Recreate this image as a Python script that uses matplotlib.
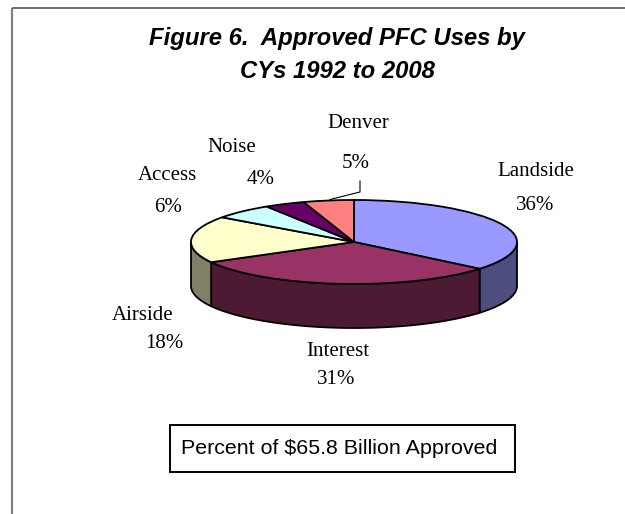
import numpy as np
import matplotlib
matplotlib.use("Agg")
import matplotlib.pyplot as plt
from matplotlib.patches import Polygon, Rectangle

# PFC uses, percent of approved total
categories = ["Landside", "Interest", "Airside", "Access", "Noise", "Denver"]
percents = [36, 31, 18, 6, 4, 5]
top_colors = ["#9999FF", "#993366", "#FFFFCC", "#CCFFFF", "#660066", "#FF8080"]
side_colors = ["#4D4D80", "#4D1A33", "#808066", "#668080", "#330033", "#804040"]

W, H = 625, 514
fig = plt.figure(figsize=(W / 100, H / 100), dpi=100)

# overlay in pixel coordinates for frame and text
bg = fig.add_axes([0, 0, 1, 1])
bg.set_xlim(0, W)
bg.set_ylim(H, 0)
bg.axis("off")

# only the top and left sides of the frame show
bg.plot([12, 12], [8, H], color="#808080", lw=1.6, solid_capstyle="butt")
bg.plot([12, W], [8, 8], color="#606060", lw=1.3, solid_capstyle="butt")

bg.text(337, 39, "Figure 6.  Approved PFC Uses by", family="Liberation Sans", weight="bold",
        style="italic", fontsize=17.2, ha="center", va="center")
bg.text(337, 72, "CYs 1992 to 2008", family="Liberation Sans", weight="bold",
        style="italic", fontsize=17.2, ha="center", va="center")

# pie: top ellipse centred at (354, 242)
cx, cy, a, b, depth = 354, 242, 163, 42, 44
ax = fig.add_axes([(cx - a) / W, (H - cy - b) / H, 2 * a / W, 2 * b / H])
ax.pie(percents, colors=top_colors, startangle=90, counterclock=False, radius=1,
       wedgeprops=dict(edgecolor="black", linewidth=1.3, clip_on=False), frame=False)
ax.set_aspect("auto")
ax.set_xlim(-1, 1)
ax.set_ylim(-1, 1)
ax.axis("off")
ax.patch.set_visible(False)

# side wall, only the front half of the rim is visible
edges = np.cumsum([0] + percents) / sum(percents) * 2 * np.pi
drop = depth / b
for i in range(len(percents)):
    t0, t1 = max(edges[i], np.pi / 2), min(edges[i + 1], 3 * np.pi / 2)
    if t1 <= t0:
        continue
    t = np.linspace(t0, t1, 60)
    x, y = np.sin(t), np.cos(t)
    pts = np.r_[np.c_[x, y], np.c_[x[::-1], y[::-1] - drop]]
    ax.add_patch(Polygon(pts, closed=True, fc=side_colors[i], ec="black", lw=1.3,
                         clip_on=False, zorder=0))

# category and percent labels
label_pos = [(536, 171), (338, 352), (143, 316), (167, 176), (232, 147), (358, 124)]
pct_pos = [(535, 206), (336, 380), (164, 344), (168, 207), (261, 180), (356, 164)]
for name, p, lp, pp in zip(categories, percents, label_pos, pct_pos):
    bg.text(lp[0], lp[1], name, family="Liberation Serif", fontsize=15, ha="center", va="center")
    bg.text(pp[0], pp[1], f"{p}%", family="Liberation Serif", fontsize=15, ha="center", va="center")

# leader line for Denver
bg.plot([360, 360, 330], [181, 192, 199.5], color="black", lw=0.8)

bg.text(339.5, 448, "Percent of $65.8 Billion Approved", family="Liberation Sans", fontsize=15.4,
        ha="center", va="center")
bg.add_patch(Rectangle((169.5, 424.5), 345, 47, fill=False, ec="black", lw=1.4))

fig.savefig("out.png", dpi=100)
